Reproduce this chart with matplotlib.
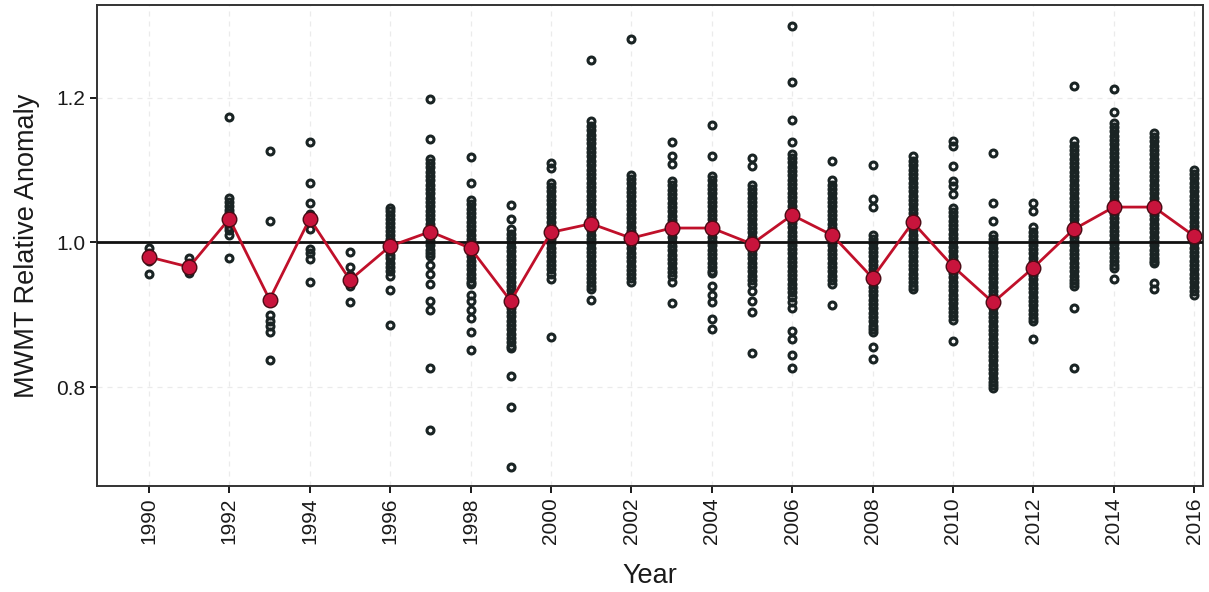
import matplotlib
matplotlib.use('Agg')
import matplotlib.pyplot as plt

plt.rcParams['font.family'] = ['Liberation Sans', 'DejaVu Sans']

# --- data ---
years = list(range(1990, 2017))

# yearly mean (red line)
mean_anomaly = [0.980, 0.966, 1.033, 0.921, 1.033, 0.948, 0.995, 1.015, 0.992, 0.919,
                1.014, 1.026, 1.006, 1.020, 1.020, 0.998, 1.038, 1.010, 0.951, 1.028,
                0.967, 0.917, 0.965, 1.018, 1.049, 1.049, 1.009]

# individual station values per year (open circles)
pts_1990 = [0.993, 0.985, 0.980, 0.975, 0.957]
pts_1991 = [0.979, 0.972, 0.966, 0.962, 0.958]
pts_1992 = [1.173, 1.062, 1.056, 1.050, 1.045, 1.041, 1.036, 1.030, 1.022, 1.017, 1.011, 0.979]
pts_1993 = [1.126, 1.030, 0.921, 0.900, 0.891, 0.884, 0.876, 0.837]
pts_1994 = [1.139, 1.083, 1.055, 1.040, 1.032, 1.018, 0.991, 0.985, 0.977, 0.945]
pts_1995 = [0.987, 0.966, 0.955, 0.949, 0.940, 0.917]
pts_1996 = [1.048, 1.043, 1.038, 1.032, 1.027, 1.021, 1.016, 1.010, 1.005, 1.000, 0.994,
            0.989, 0.983, 0.978, 0.972, 0.966, 0.960, 0.953, 0.934, 0.886]
pts_1997 = [1.199, 1.143, 1.115, 1.110, 1.104, 1.098, 1.092, 1.086, 1.080, 1.074, 1.068,
            1.062, 1.056, 1.050, 1.044, 1.038, 1.032, 1.026, 1.020, 1.014, 1.008, 1.002,
            0.996, 0.990, 0.985, 0.981, 0.969, 0.956, 0.943, 0.919, 0.907, 0.827, 0.741]
pts_1998 = [1.118, 1.083, 1.059, 1.053, 1.047, 1.041, 1.035, 1.029, 1.023, 1.017, 1.011,
            1.005, 0.999, 0.993, 0.987, 0.981, 0.975, 0.969, 0.963, 0.957, 0.951, 0.946,
            0.942, 0.928, 0.919, 0.907, 0.896, 0.876, 0.851]
pts_1999 = [1.052, 1.033, 1.018, 1.012, 1.006, 1.000, 0.994, 0.988, 0.982, 0.976, 0.970,
            0.964, 0.958, 0.952, 0.946, 0.940, 0.934, 0.928, 0.922, 0.916, 0.910, 0.904,
            0.898, 0.892, 0.886, 0.880, 0.874, 0.868, 0.862, 0.857, 0.854, 0.815, 0.773, 0.690]
pts_2000 = [1.110, 1.103, 1.083, 1.077, 1.071, 1.065, 1.059, 1.053, 1.047, 1.041, 1.035,
            1.029, 1.023, 1.017, 1.011, 1.005, 0.999, 0.993, 0.987, 0.981, 0.975, 0.969,
            0.963, 0.957, 0.950, 0.869]
pts_2001 = [1.252, 1.168, 1.161, 1.155, 1.149, 1.143, 1.137, 1.131, 1.125, 1.119, 1.113,
            1.107, 1.101, 1.095, 1.089, 1.083, 1.077, 1.071, 1.065, 1.059, 1.053, 1.047,
            1.041, 1.035, 1.029, 1.023, 1.017, 1.011, 1.005, 0.999, 0.993, 0.987, 0.981,
            0.975, 0.969, 0.963, 0.957, 0.951, 0.945, 0.940, 0.935, 0.920]
pts_2002 = [1.282, 1.094, 1.088, 1.082, 1.076, 1.070, 1.064, 1.058, 1.052, 1.046, 1.040,
            1.034, 1.028, 1.022, 1.016, 1.010, 1.004, 0.998, 0.992, 0.986, 0.980, 0.974,
            0.968, 0.962, 0.956, 0.951, 0.946]
pts_2003 = [1.139, 1.119, 1.108, 1.085, 1.079, 1.073, 1.067, 1.061, 1.055, 1.049, 1.043,
            1.037, 1.031, 1.025, 1.019, 1.013, 1.007, 1.001, 0.995, 0.989, 0.983, 0.977,
            0.971, 0.965, 0.959, 0.953, 0.946, 0.916]
pts_2004 = [1.163, 1.120, 1.092, 1.086, 1.080, 1.074, 1.068, 1.062, 1.056, 1.050, 1.044,
            1.038, 1.032, 1.026, 1.020, 1.014, 1.008, 1.002, 0.996, 0.990, 0.984, 0.978,
            0.972, 0.966, 0.961, 0.958, 0.940, 0.928, 0.917, 0.894, 0.880]
pts_2005 = [1.117, 1.106, 1.080, 1.074, 1.068, 1.062, 1.056, 1.050, 1.044, 1.038, 1.032,
            1.026, 1.020, 1.014, 1.008, 1.002, 0.996, 0.990, 0.984, 0.978, 0.972, 0.966,
            0.960, 0.954, 0.948, 0.943, 0.933, 0.919, 0.904, 0.847]
pts_2006 = [1.300, 1.222, 1.169, 1.139, 1.123, 1.117, 1.111, 1.105, 1.099, 1.093, 1.087,
            1.081, 1.075, 1.069, 1.063, 1.057, 1.051, 1.045, 1.039, 1.033, 1.027, 1.021,
            1.015, 1.009, 1.003, 0.997, 0.991, 0.985, 0.979, 0.973, 0.967, 0.961, 0.955,
            0.949, 0.943, 0.937, 0.931, 0.925, 0.918, 0.910, 0.877, 0.866, 0.845, 0.827]
pts_2007 = [1.113, 1.086, 1.080, 1.074, 1.068, 1.062, 1.056, 1.050, 1.044, 1.038, 1.032,
            1.026, 1.020, 1.014, 1.008, 1.002, 0.996, 0.990, 0.984, 0.978, 0.972, 0.966,
            0.960, 0.954, 0.948, 0.942, 0.914]
pts_2008 = [1.107, 1.060, 1.049, 1.011, 1.005, 0.999, 0.993, 0.987, 0.981, 0.975, 0.969,
            0.963, 0.957, 0.951, 0.945, 0.939, 0.933, 0.927, 0.921, 0.915, 0.909, 0.903,
            0.897, 0.891, 0.885, 0.880, 0.876, 0.856, 0.839]
pts_2009 = [1.119, 1.113, 1.107, 1.101, 1.095, 1.089, 1.083, 1.077, 1.071, 1.065, 1.059,
            1.053, 1.047, 1.041, 1.035, 1.029, 1.023, 1.017, 1.011, 1.005, 0.999, 0.993,
            0.987, 0.981, 0.975, 0.969, 0.963, 0.957, 0.951, 0.945, 0.940, 0.935]
pts_2010 = [1.140, 1.133, 1.106, 1.085, 1.078, 1.067, 1.048, 1.042, 1.036, 1.030, 1.024,
            1.018, 1.012, 1.006, 1.000, 0.994, 0.988, 0.982, 0.976, 0.970, 0.964, 0.958,
            0.952, 0.946, 0.940, 0.934, 0.928, 0.922, 0.916, 0.910, 0.904, 0.898, 0.893, 0.863]
pts_2011 = [1.124, 1.054, 1.030, 1.011, 1.005, 0.999, 0.993, 0.987, 0.981, 0.975, 0.969,
            0.963, 0.957, 0.951, 0.945, 0.939, 0.933, 0.927, 0.921, 0.915, 0.909, 0.903,
            0.897, 0.891, 0.885, 0.879, 0.873, 0.867, 0.861, 0.855, 0.849, 0.843, 0.837,
            0.831, 0.825, 0.819, 0.813, 0.807, 0.803, 0.799]
pts_2012 = [1.054, 1.043, 1.021, 1.015, 1.009, 1.003, 0.997, 0.991, 0.985, 0.979, 0.973,
            0.967, 0.961, 0.955, 0.949, 0.943, 0.937, 0.931, 0.925, 0.919, 0.913, 0.907,
            0.901, 0.896, 0.891, 0.867]
pts_2013 = [1.216, 1.140, 1.134, 1.128, 1.122, 1.116, 1.110, 1.104, 1.098, 1.092, 1.086,
            1.080, 1.074, 1.068, 1.062, 1.056, 1.050, 1.044, 1.038, 1.032, 1.026, 1.020,
            1.014, 1.008, 1.002, 0.996, 0.990, 0.984, 0.978, 0.972, 0.966, 0.960, 0.954,
            0.948, 0.944, 0.940, 0.910, 0.827]
pts_2014 = [1.213, 1.180, 1.166, 1.160, 1.154, 1.148, 1.142, 1.136, 1.130, 1.124, 1.118,
            1.112, 1.106, 1.100, 1.094, 1.088, 1.082, 1.076, 1.070, 1.064, 1.058, 1.052,
            1.046, 1.040, 1.034, 1.028, 1.022, 1.016, 1.010, 1.004, 0.998, 0.992, 0.986,
            0.980, 0.974, 0.969, 0.965, 0.949]
pts_2015 = [1.152, 1.146, 1.140, 1.134, 1.128, 1.122, 1.116, 1.110, 1.104, 1.098, 1.092,
            1.086, 1.080, 1.074, 1.068, 1.062, 1.056, 1.050, 1.044, 1.038, 1.032, 1.026,
            1.020, 1.014, 1.008, 1.002, 0.996, 0.990, 0.984, 0.978, 0.974, 0.971, 0.944, 0.936]
pts_2016 = [1.101, 1.095, 1.089, 1.083, 1.077, 1.071, 1.065, 1.059, 1.053, 1.047, 1.041,
            1.035, 1.029, 1.023, 1.017, 1.011, 1.005, 0.999, 0.993, 0.987, 0.981, 0.975,
            0.969, 0.963, 0.957, 0.951, 0.945, 0.939, 0.933, 0.927]

samples = [pts_1990, pts_1991, pts_1992, pts_1993, pts_1994, pts_1995, pts_1996,
           pts_1997, pts_1998, pts_1999, pts_2000, pts_2001, pts_2002, pts_2003,
           pts_2004, pts_2005, pts_2006, pts_2007, pts_2008, pts_2009, pts_2010,
           pts_2011, pts_2012, pts_2013, pts_2014, pts_2015, pts_2016]

x_ticks = list(range(1990, 2017, 2))
y_ticks = [0.8, 1.0, 1.2]

# --- figure ---
fig = plt.figure(figsize=(12.09, 5.92), dpi=100)
ax = fig.add_axes([0.080, 0.179, 0.915, 0.813])

# faint dashed grid
for yr in x_ticks:
    ax.axvline(yr, color='#ebebeb', lw=0.9, ls=(0, (4, 4)), zorder=0)
for yv in y_ticks:
    ax.axhline(yv, color='#ebebeb', lw=0.9, ls=(0, (4, 4)), zorder=0)

# station values (hollow so overlapping rings merge into a solid band)
for yr, vals in zip(years, samples):
    ax.plot([yr] * len(vals), vals, 'o', ms=5.0, mfc='none', mec='#1a2424',
            mew=2.2, ls='none', zorder=2)

# reference line at 1.0
ax.axhline(1.0, color='#111111', lw=2.0, zorder=3)

# yearly mean
ax.plot(years, mean_anomaly, '-', color='#c0102a', lw=2.0, zorder=4)
ax.plot(years, mean_anomaly, 'o', ms=10.5, mfc='#c8143c', mec='#4a0a14', mew=1.0,
        ls='none', zorder=5)

ax.set_xlim(1988.70, 2016.22)
ax.set_ylim(0.663, 1.329)
ax.set_xticks(x_ticks)
ax.set_xticklabels([str(t) for t in x_ticks], rotation=90)
ax.set_yticks(y_ticks)
ax.set_yticklabels(['0.8', '1.0', '1.2'])

ax.tick_params(axis='both', labelsize=15, colors='#1a1a1a', length=5, width=1.4, pad=3)
for s in ax.spines.values():
    s.set_color('#333333')
    s.set_linewidth(1.4)

ax.set_xlabel('Year', fontsize=19.5, color='#1a1a1a', labelpad=14)
ax.set_ylabel('MWMT Relative Anomaly', fontsize=19.5, color='#1a1a1a', labelpad=12)

fig.savefig('out.png', dpi=100)
